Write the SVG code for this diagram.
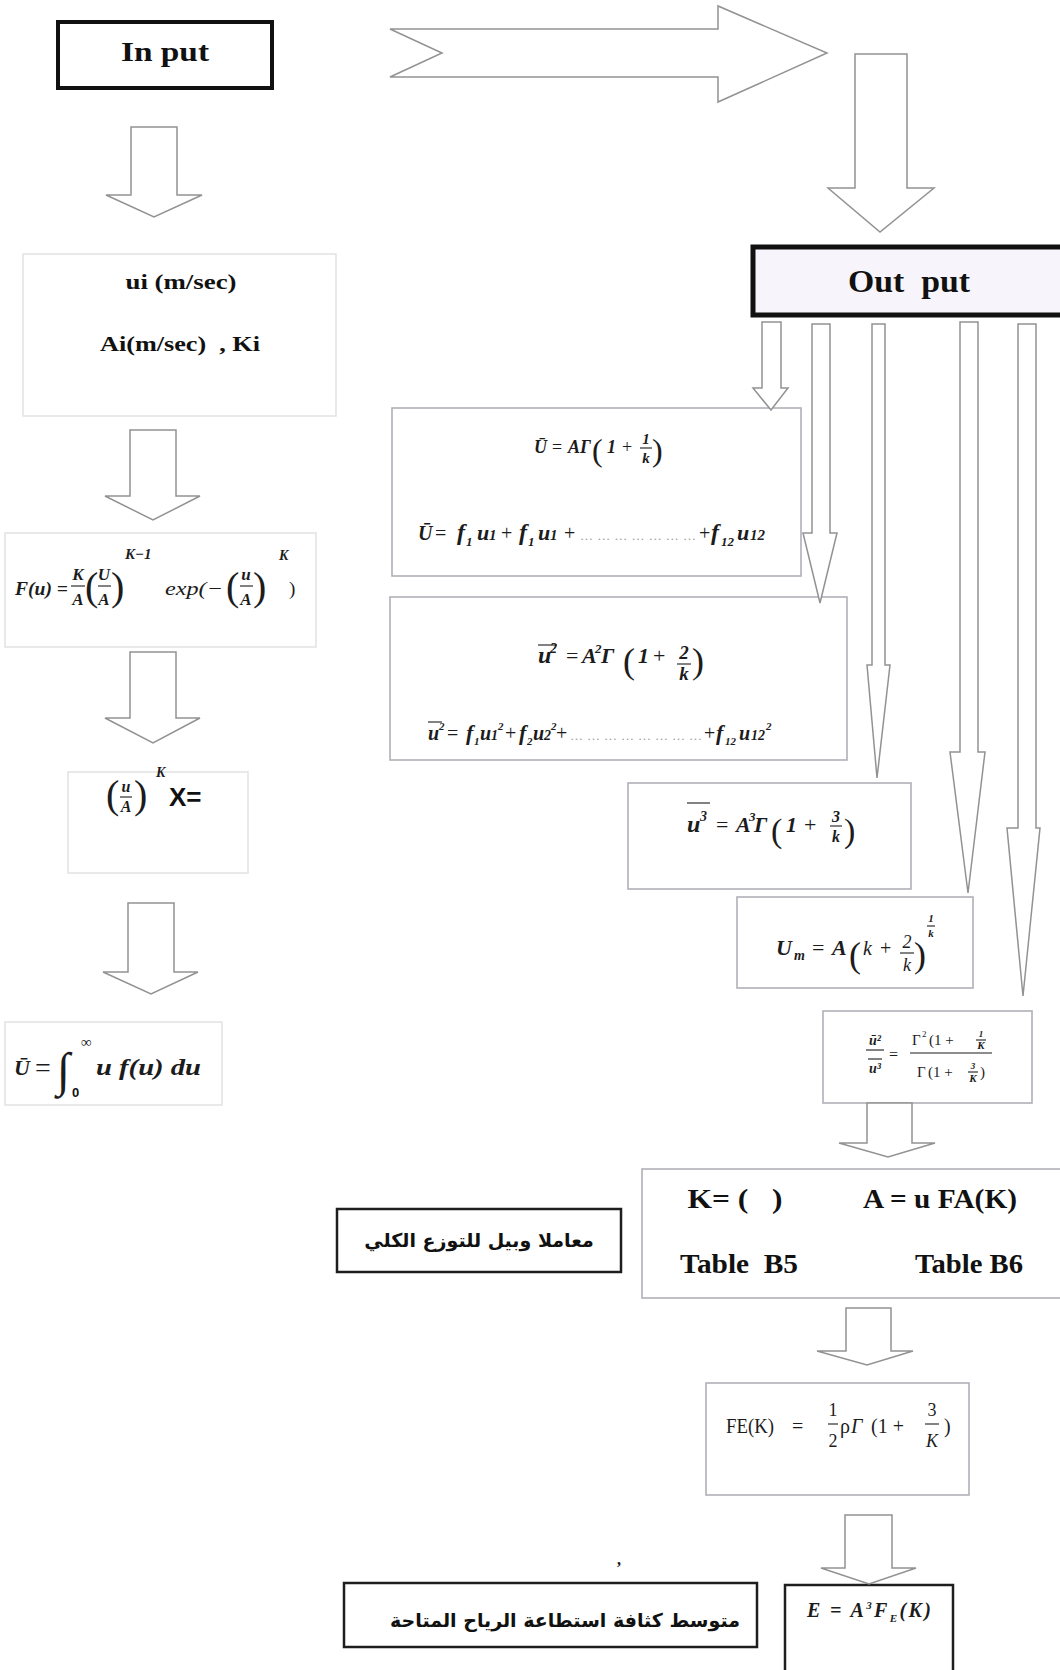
<svg xmlns="http://www.w3.org/2000/svg" width="1060" height="1670" viewBox="0 0 1060 1670">
<style>
.bg{fill:#fff}
.bxf{fill:none;stroke:#e2e2e2;stroke-width:1.5}
.bx{fill:none;stroke:#b0b0b8;stroke-width:1.6}
.bxd{fill:#fff;stroke:#1e1e1e;stroke-width:2.5}
.arr{fill:#fff;stroke:#929292;stroke-width:1.5;stroke-linejoin:miter}
.tb{font-family:"Liberation Serif",serif;font-weight:bold;fill:#111}
.mi{font-family:"Liberation Serif",serif;font-style:italic;font-weight:bold;fill:#1c1c1c}
.rm{font-family:"Liberation Serif",serif;fill:#1c1c1c}
.it{font-family:"Liberation Serif",serif;font-style:italic;fill:#1c1c1c}
.sb{font-family:"Liberation Sans",sans-serif;font-weight:bold;fill:#111}
.fb{stroke:#1c1c1c;stroke-width:1.1}
.ar{font-family:"DejaVu Sans",sans-serif;font-weight:bold;fill:#111}
.dots{font-family:"Liberation Serif",serif;fill:#9a9a9a}
.mid{text-anchor:middle}
</style>
<rect class="bg" width="1060" height="1670"/>

<g id="input">
<rect x="58" y="22" width="214" height="66" fill="#fff" stroke="#111" stroke-width="4"/>
<text class="tb mid" x="165" y="61" font-size="28" textLength="88" lengthAdjust="spacingAndGlyphs">In put</text>
</g>

<g id="output">
<rect x="753" y="247" width="320" height="68" fill="#f7f5fb" stroke="#111" stroke-width="5"/>
<text class="tb mid" x="909" y="292" font-size="32" textLength="122" lengthAdjust="spacingAndGlyphs" xml:space="preserve">Out  put</text>
</g>

<g id="input-data">
<rect class="bxf" x="23" y="254" width="313" height="162"/>
<text class="tb mid" x="181" y="289" font-size="22" textLength="111" lengthAdjust="spacingAndGlyphs">ui (m/sec)</text>
<text class="tb mid" x="180" y="351" font-size="22" textLength="160" lengthAdjust="spacingAndGlyphs" xml:space="preserve">Ai(m/sec)  , Ki</text>
</g>

<g id="weibull-pdf">
<rect class="bxf" x="5" y="533" width="311" height="114"/>
<text class="mi" x="15" y="595" font-size="19" textLength="53" lengthAdjust="spacingAndGlyphs">F(u) =</text>
<text class="mi mid" x="78" y="580" font-size="17">K</text>
<line class="fb" x1="71" y1="586" x2="85" y2="586"/>
<text class="mi mid" x="78" y="605" font-size="17">A</text>
<text class="rm" x="85" y="600" font-size="40">(</text>
<text class="mi mid" x="104" y="580" font-size="17">U</text>
<line class="fb" x1="98" y1="586" x2="111" y2="586"/>
<text class="mi mid" x="104" y="605" font-size="17">A</text>
<text class="rm" x="111" y="600" font-size="40">)</text>
<text class="mi" x="125" y="559" font-size="15">K−1</text>
<text class="it" x="165" y="595" font-size="19" textLength="58" lengthAdjust="spacingAndGlyphs">exp(−</text>
<text class="rm" x="226" y="600" font-size="40">(</text>
<text class="mi mid" x="246" y="580" font-size="17">u</text>
<line class="fb" x1="240" y1="586" x2="253" y2="586"/>
<text class="mi mid" x="246" y="605" font-size="17">A</text>
<text class="rm" x="253" y="600" font-size="40">)</text>
<text class="mi" x="279" y="560" font-size="14">K</text>
<text class="rm" x="289" y="595" font-size="19">)</text>
</g>

<g id="x-variable">
<rect class="bxf" x="68" y="772" width="180" height="101"/>
<text class="rm" x="106" y="808" font-size="40">(</text>
<text class="mi mid" x="126" y="792" font-size="16">u</text>
<line class="fb" x1="120" y1="797" x2="132" y2="797"/>
<text class="mi mid" x="126" y="812" font-size="16">A</text>
<text class="rm" x="134" y="808" font-size="40">)</text>
<text class="mi" x="156" y="777" font-size="14">K</text>
<text class="sb" x="169" y="806" font-size="26">X=</text>
</g>

<g id="mean-integral">
<rect class="bxf" x="5" y="1022" width="217" height="83"/>
<text class="mi" x="14" y="1075" font-size="22">Ū</text>
<text class="rm" x="35" y="1077" font-size="28">=</text>
<text class="it" x="57" y="1086" font-size="48">∫</text>
<text class="rm" x="81" y="1047" font-size="15">∞</text>
<text class="sb" x="72" y="1097" font-size="13">0</text>
<text class="mi" x="96" y="1075" font-size="24" textLength="105" lengthAdjust="spacingAndGlyphs">u f(u) du</text>
</g>

<g id="mean-speed">
<rect class="bx" x="392" y="408" width="409" height="168"/>
<text class="mi" x="534" y="453" font-size="18">Ū</text>
<text class="rm" x="552" y="453" font-size="18">=</text>
<text class="mi" x="568" y="453" font-size="18">AΓ</text>
<text class="rm" x="592" y="461" font-size="32">(</text>
<text class="mi" x="607" y="453" font-size="18">1</text>
<text class="rm" x="622" y="453" font-size="18">+</text>
<text class="mi mid" x="646" y="444" font-size="15">1</text>
<line class="fb" x1="640" y1="448" x2="652" y2="448"/>
<text class="mi mid" x="646" y="463" font-size="15">k</text>
<text class="rm" x="652" y="461" font-size="32">)</text>

<text class="mi" x="418" y="540" font-size="20">Ū</text>
<text class="rm" x="435" y="540" font-size="20">=</text>
<text class="mi" x="457" y="540" font-size="24">f</text>
<text class="mi" x="466" y="546" font-size="13">1</text>
<text class="mi" x="477" y="540" font-size="22">u</text>
<text class="mi" x="489" y="540" font-size="15">1</text>
<text class="rm" x="501" y="540" font-size="20">+</text>
<text class="mi" x="519" y="540" font-size="24">f</text>
<text class="mi" x="528" y="546" font-size="13">1</text>
<text class="mi" x="538" y="540" font-size="22">u</text>
<text class="mi" x="550" y="540" font-size="15">1</text>
<text class="rm" x="564" y="540" font-size="20">+</text>
<text class="dots" x="580" y="540" font-size="13" textLength="116" lengthAdjust="spacing">…………………</text>
<text class="rm" x="699" y="540" font-size="20">+</text>
<text class="mi" x="711" y="540" font-size="24">f</text>
<text class="mi" x="721" y="546" font-size="13">12</text>
<text class="mi" x="737" y="540" font-size="22">u</text>
<text class="mi" x="750" y="540" font-size="15">12</text>
</g>

<g id="mean-square">
<rect class="bx" x="390" y="597" width="457" height="163"/>
<line class="fb" x1="538" y1="645" x2="557" y2="645" stroke-width="1.6"/>
<text class="mi" x="538" y="663" font-size="24">u</text>
<text class="mi" x="550" y="653" font-size="14">2</text>
<text class="rm" x="566" y="663" font-size="22">=</text>
<text class="mi" x="582" y="663" font-size="22">A</text>
<text class="mi" x="595" y="653" font-size="13">2</text>
<text class="mi" x="601" y="663" font-size="22">Γ</text>
<text class="rm" x="623" y="673" font-size="36">(</text>
<text class="mi" x="638" y="663" font-size="22">1</text>
<text class="rm" x="653" y="663" font-size="22">+</text>
<text class="mi mid" x="684" y="659" font-size="19">2</text>
<line class="fb" x1="677" y1="664" x2="691" y2="664"/>
<text class="mi mid" x="684" y="680" font-size="19">k</text>
<text class="rm" x="692" y="673" font-size="36">)</text>

<line class="fb" x1="428" y1="722" x2="442" y2="722"/>
<text class="mi" x="428" y="740" font-size="20">u</text>
<text class="mi" x="439" y="730" font-size="11">2</text>
<text class="rm" x="447" y="740" font-size="20">=</text>
<text class="mi" x="466" y="740" font-size="22">f</text>
<text class="mi" x="474" y="745" font-size="11">1</text>
<text class="mi" x="480" y="740" font-size="20">u</text>
<text class="mi" x="491" y="740" font-size="14">1</text>
<text class="mi" x="498" y="730" font-size="11">2</text>
<text class="rm" x="505" y="740" font-size="20">+</text>
<text class="mi" x="519" y="740" font-size="22">f</text>
<text class="mi" x="527" y="745" font-size="11">2</text>
<text class="mi" x="533" y="740" font-size="20">u</text>
<text class="mi" x="544" y="740" font-size="14">2</text>
<text class="mi" x="551" y="730" font-size="11">2</text>
<text class="rm" x="556" y="740" font-size="20">+</text>
<text class="dots" x="570" y="740" font-size="13" textLength="132" lengthAdjust="spacing">……………………</text>
<text class="rm" x="704" y="740" font-size="20">+</text>
<text class="mi" x="716" y="740" font-size="22">f</text>
<text class="mi" x="725" y="745" font-size="11">12</text>
<text class="mi" x="739" y="740" font-size="20">u</text>
<text class="mi" x="751" y="740" font-size="14">12</text>
<text class="mi" x="766" y="730" font-size="11">2</text>
</g>

<g id="mean-cube">
<rect class="bx" x="628" y="783" width="283" height="106"/>
<line class="fb" x1="687" y1="803" x2="710" y2="803" stroke-width="1.6"/>
<text class="mi" x="687" y="832" font-size="24">u</text>
<text class="mi" x="700" y="821" font-size="14">3</text>
<text class="rm" x="716" y="832" font-size="22">=</text>
<text class="mi" x="736" y="832" font-size="22">A</text>
<text class="mi" x="749" y="821" font-size="13">3</text>
<text class="mi" x="754" y="832" font-size="22">Γ</text>
<text class="rm" x="771" y="842" font-size="34">(</text>
<text class="mi" x="786" y="832" font-size="22">1</text>
<text class="rm" x="804" y="832" font-size="22">+</text>
<text class="mi mid" x="836" y="822" font-size="16">3</text>
<line class="fb" x1="830" y1="826" x2="842" y2="826"/>
<text class="mi mid" x="836" y="842" font-size="16">k</text>
<text class="rm" x="844" y="842" font-size="34">)</text>
</g>

<g id="max-energy-speed">
<rect class="bx" x="737" y="897" width="236" height="91"/>
<text class="mi" x="776" y="955" font-size="22">U</text>
<text class="mi" x="794" y="960" font-size="14">m</text>
<text class="rm" x="812" y="955" font-size="22">=</text>
<text class="mi" x="832" y="955" font-size="22">A</text>
<text class="rm" x="849" y="967" font-size="36">(</text>
<text class="it" x="863" y="955" font-size="20">k</text>
<text class="rm" x="880" y="955" font-size="20">+</text>
<text class="it mid" x="907" y="948" font-size="18">2</text>
<line class="fb" x1="900" y1="953" x2="914" y2="953"/>
<text class="it mid" x="907" y="971" font-size="18">k</text>
<text class="rm" x="914" y="967" font-size="36">)</text>
<text class="mi mid" x="931" y="922" font-size="11">1</text>
<line class="fb" x1="927" y1="926" x2="935" y2="926"/>
<text class="mi mid" x="931" y="937" font-size="11">k</text>
</g>

<g id="ratio">
<rect class="bx" x="823" y="1011" width="209" height="92"/>
<text class="mi mid" x="875" y="1045" font-size="14">ū²</text>
<line class="fb" x1="866" y1="1050" x2="884" y2="1050"/>
<line class="fb" x1="868" y1="1059" x2="882" y2="1059"/>
<text class="mi mid" x="875" y="1073" font-size="14">u³</text>
<text class="rm" x="889" y="1060" font-size="16">=</text>
<text class="rm" x="912" y="1045" font-size="15">Γ</text>
<text class="rm" x="922" y="1037" font-size="9">2</text>
<text class="rm" x="929" y="1045" font-size="15">(1 +</text>
<text class="mi mid" x="981" y="1037" font-size="9">1</text>
<line class="fb" x1="976" y1="1040" x2="986" y2="1040" stroke-width="0.8"/>
<text class="mi mid" x="981" y="1049" font-size="11">K</text>
<line class="fb" x1="910" y1="1053" x2="992" y2="1053"/>
<text class="rm" x="917" y="1077" font-size="15">Γ</text>
<text class="rm" x="928" y="1077" font-size="15">(1 +</text>
<text class="mi mid" x="973" y="1069" font-size="9">3</text>
<line class="fb" x1="968" y1="1072" x2="978" y2="1072" stroke-width="0.8"/>
<text class="mi mid" x="973" y="1082" font-size="11">K</text>
<text class="rm" x="980" y="1077" font-size="15">)</text>
</g>

<g id="weibull-params">
<rect class="bx" x="642" y="1169" width="430" height="129"/>
<text class="tb mid" x="735" y="1208" font-size="27" textLength="95" lengthAdjust="spacingAndGlyphs" xml:space="preserve">K= (   )</text>
<text class="tb mid" x="940" y="1208" font-size="27" textLength="154" lengthAdjust="spacingAndGlyphs">A = u FA(K)</text>
<text class="tb mid" x="739" y="1273" font-size="27" textLength="118" lengthAdjust="spacingAndGlyphs" xml:space="preserve">Table  B5</text>
<text class="tb mid" x="969" y="1273" font-size="27" textLength="108" lengthAdjust="spacingAndGlyphs">Table B6</text>
</g>

<g id="weibull-label">
<rect class="bxd" x="337" y="1209" width="284" height="63"/>
<text class="ar mid" x="479" y="1247" font-size="19">معاملا وبيل للتوزع الكلي</text>
</g>

<g id="energy-factor">
<rect class="bx" x="706" y="1383" width="263" height="112"/>
<text class="rm" x="726" y="1433" font-size="20" textLength="48" lengthAdjust="spacingAndGlyphs">FE(K)</text>
<text class="rm" x="792" y="1433" font-size="20">=</text>
<text class="rm mid" x="833" y="1416" font-size="18">1</text>
<line class="fb" x1="828" y1="1424" x2="838" y2="1424"/>
<text class="rm mid" x="833" y="1447" font-size="18">2</text>
<text class="rm" x="840" y="1433" font-size="20">ρ</text>
<text class="it" x="851" y="1433" font-size="20">Γ</text>
<text class="rm" x="871" y="1433" font-size="20">(1 +</text>
<text class="rm mid" x="932" y="1416" font-size="18">3</text>
<line class="fb" x1="925" y1="1424" x2="939" y2="1424"/>
<text class="it mid" x="932" y="1447" font-size="18">K</text>
<text class="rm" x="944" y="1433" font-size="20">)</text>
</g>

<g id="power-density">
<rect class="bxd" x="785" y="1585" width="168" height="100"/>
<text class="mi" x="807" y="1617" font-size="20" textLength="124" lengthAdjust="spacing">E = A<tspan dy="-8" font-size="11">3</tspan><tspan dy="8">F</tspan><tspan dy="5" font-size="11">E</tspan><tspan dy="-5">(K)</tspan></text>
</g>

<g id="power-density-label">
<rect class="bxd" x="344" y="1583" width="413" height="64"/>
<text class="ar mid" x="565" y="1627" font-size="19">متوسط كثافة استطاعة الرياح المتاحة</text>
</g>

<g id="mark">
<text class="tb" x="617" y="1565" font-size="16">,</text>
</g>

<g id="connectors">
<polygon class="arr" points="390,29 718,29 718,6 827,53 718,102 718,77 390,77 442,53"/>
<polygon class="arr" points="855,54 907,54 907,188 934,188 880,232 828,188 855,188"/>
<polygon class="arr" points="131,127 177,127 177,195 202,195 154,217 106,195 131,195"/>
<polygon class="arr" points="130,430 176,430 176,496 200,496 153,520 105,496 130,496"/>
<polygon class="arr" points="130,652 176,652 176,718 200,718 153,743 105,718 130,718"/>
<polygon class="arr" points="128,903 174,903 174,972 198,972 151,994 103,972 128,972"/>
<polygon class="arr" points="762,322 781,322 781,388 788,388 771,410 753,388 762,388"/>
<polygon class="arr" points="812,324 830,324 830,533 837,533 820,603 803,533 812,533"/>
<polygon class="arr" points="872,324 885,324 885,665 890,665 877,778 867,665 872,665"/>
<polygon class="arr" points="960,322 978,322 978,752 985,752 968,893 950,752 960,752"/>
<polygon class="arr" points="1018,324 1036,324 1036,828 1040,828 1023,996 1007,828 1018,828"/>
<polygon class="arr" points="867,1103 912,1103 912,1143 935,1143 888,1157 839,1143 867,1143"/>
<polygon class="arr" points="846,1308 891,1308 891,1351 913,1351 867,1365 817,1351 846,1351"/>
<polygon class="arr" points="845,1515 892,1515 892,1568 916,1568 869,1584 821,1568 845,1568"/>
</g>
</svg>
